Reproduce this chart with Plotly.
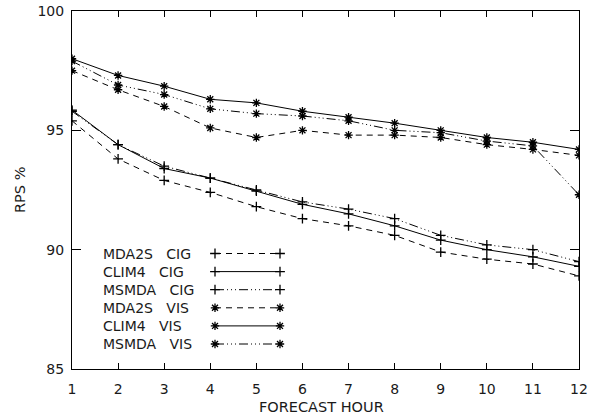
import plotly.graph_objects as go

# ---------------- data ----------------
hours = [1, 2, 3, 4, 5, 6, 7, 8, 9, 10, 11, 12]

cig_mda2s = [95.4, 93.8, 92.9, 92.4, 91.8, 91.3, 91.0, 90.6, 89.9, 89.6, 89.4, 88.9]
cig_clim4 = [95.85, 94.4, 93.4, 93.0, 92.45, 91.9, 91.5, 91.0, 90.4, 90.0, 89.7, 89.3]
cig_msmda = [95.8, 94.4, 93.5, 93.0, 92.5, 92.0, 91.7, 91.3, 90.6, 90.2, 90.0, 89.5]
vis_mda2s = [97.5, 96.7, 96.0, 95.1, 94.7, 95.0, 94.8, 94.8, 94.7, 94.4, 94.2, 93.95]
vis_clim4 = [98.0, 97.3, 96.85, 96.3, 96.15, 95.8, 95.55, 95.3, 95.0, 94.7, 94.5, 94.2]
vis_msmda = [97.9, 96.9, 96.5, 95.9, 95.7, 95.6, 95.4, 95.0, 94.9, 94.55, 94.35, 92.3]

series_labels = ["MDA2S   CIG", "CLIM4   CIG", "MSMDA   CIG",
                 "MDA2S   VIS", "CLIM4   VIS", "MSMDA   VIS"]
series_values = [cig_mda2s, cig_clim4, cig_msmda, vis_mda2s, vis_clim4, vis_msmda]

y_ticks = [85, 90, 95, 100]
x_title = "FORECAST HOUR"
y_title = "RPS %"

# ---------------- styles ----------------
DASH = "6px,5px"
DASHDOT3 = "9px,3px,1px,3px,1px,3px,1px,3px"
styles = [
    ("cross-thin-open", DASH),
    ("cross-thin-open", "solid"),
    ("cross-thin-open", DASHDOT3),
    ("asterisk-open", DASH),
    ("asterisk-open", "solid"),
    ("asterisk-open", DASHDOT3),
]

FONT = "DejaVu Sans"
TXT = "#1a1a1a"
FS = 14
W, H = 591, 416
ML, MR, MT, MB = 72, 12, 11, 47
PW, PH = W - ML - MR, H - MT - MB
MSIZE = 7

fig = go.Figure()

for (sym, dash), vals, name in zip(styles, series_values, series_labels):
    fig.add_trace(go.Scatter(
        x=hours, y=vals, mode="lines+markers", name=name, showlegend=False,
        line=dict(color="black", width=1, dash=dash),
        marker=dict(symbol=sym, size=MSIZE, color="black",
                    line=dict(color="black", width=1.3)),
    ))

# ---------------- manual legend (text left of line sample) ----------------
LEG_TEXT_X = 101
LEG_X0, LEG_X1 = 215, 280
LEG_Y0, LEG_DY = 253.5, 18.1


def px_to_paper_x(px):
    return (px - ML) / PW


def px_to_paper_y(py):
    return 1 - (py - MT) / PH


annotations = []
for i, ((sym, dash), name) in enumerate(zip(styles, series_labels)):
    py = LEG_Y0 + i * LEG_DY
    yy = px_to_paper_y(py)
    fig.add_trace(go.Scatter(
        x=[px_to_paper_x(LEG_X0), px_to_paper_x(LEG_X1)], y=[yy, yy],
        xaxis="x2", yaxis="y2", mode="lines+markers", showlegend=False,
        hoverinfo="skip",
        line=dict(color="black", width=1, dash=dash),
        marker=dict(symbol=sym, size=MSIZE, color="black",
                    line=dict(color="black", width=1.3)),
    ))
    annotations.append(dict(
        x=px_to_paper_x(LEG_TEXT_X), y=yy, xref="paper", yref="paper",
        xanchor="left", yanchor="middle", showarrow=False, text=name,
        font=dict(family=FONT, size=FS, color=TXT),
    ))

annotations.append(dict(
    x=0.5, y=0, xref="paper", yref="paper", xanchor="center", yanchor="middle",
    xshift=-4, yshift=-38, showarrow=False, text=x_title,
    font=dict(family=FONT, size=14.5, color=TXT),
))
annotations.append(dict(
    x=0, y=0.5, xref="paper", yref="paper", xanchor="center", yanchor="middle",
    xshift=-52, showarrow=False, text=y_title, textangle=-90,
    font=dict(family=FONT, size=14.5, color=TXT),
))

fig.update_layout(
    template="none",
    width=W, height=H,
    margin=dict(l=ML, r=MR, t=MT, b=MB, pad=0, autoexpand=False),
    paper_bgcolor="white", plot_bgcolor="white",
    font=dict(family=FONT, size=FS, color=TXT),
    annotations=annotations,
    xaxis=dict(
        range=[1, 12], tickmode="array", tickvals=hours, automargin=False,
        ticks="inside", ticklen=6, tickwidth=1, tickcolor="black",
        showline=True, linecolor="black", linewidth=1, mirror="ticks",
        showgrid=False, zeroline=False, ticklabelstandoff=7,
        tickfont=dict(family=FONT, size=FS, color=TXT),
    ),
    yaxis=dict(
        range=[85, 100], tickmode="array", tickvals=y_ticks, automargin=False,
        ticks="inside", ticklen=9, tickwidth=1, tickcolor="black",
        showline=True, linecolor="black", linewidth=1, mirror="ticks",
        showgrid=False, zeroline=False, ticklabelstandoff=4,
        tickfont=dict(family=FONT, size=FS, color=TXT),
    ),
    xaxis2=dict(range=[0, 1], overlaying="x", visible=False, fixedrange=True),
    yaxis2=dict(range=[0, 1], overlaying="y", visible=False, fixedrange=True),
)

fig.write_html(
    "out.html",
    config={"displayModeBar": False},
    post_script="document.body.style.margin='0';document.body.style.overflow='hidden';",
)
